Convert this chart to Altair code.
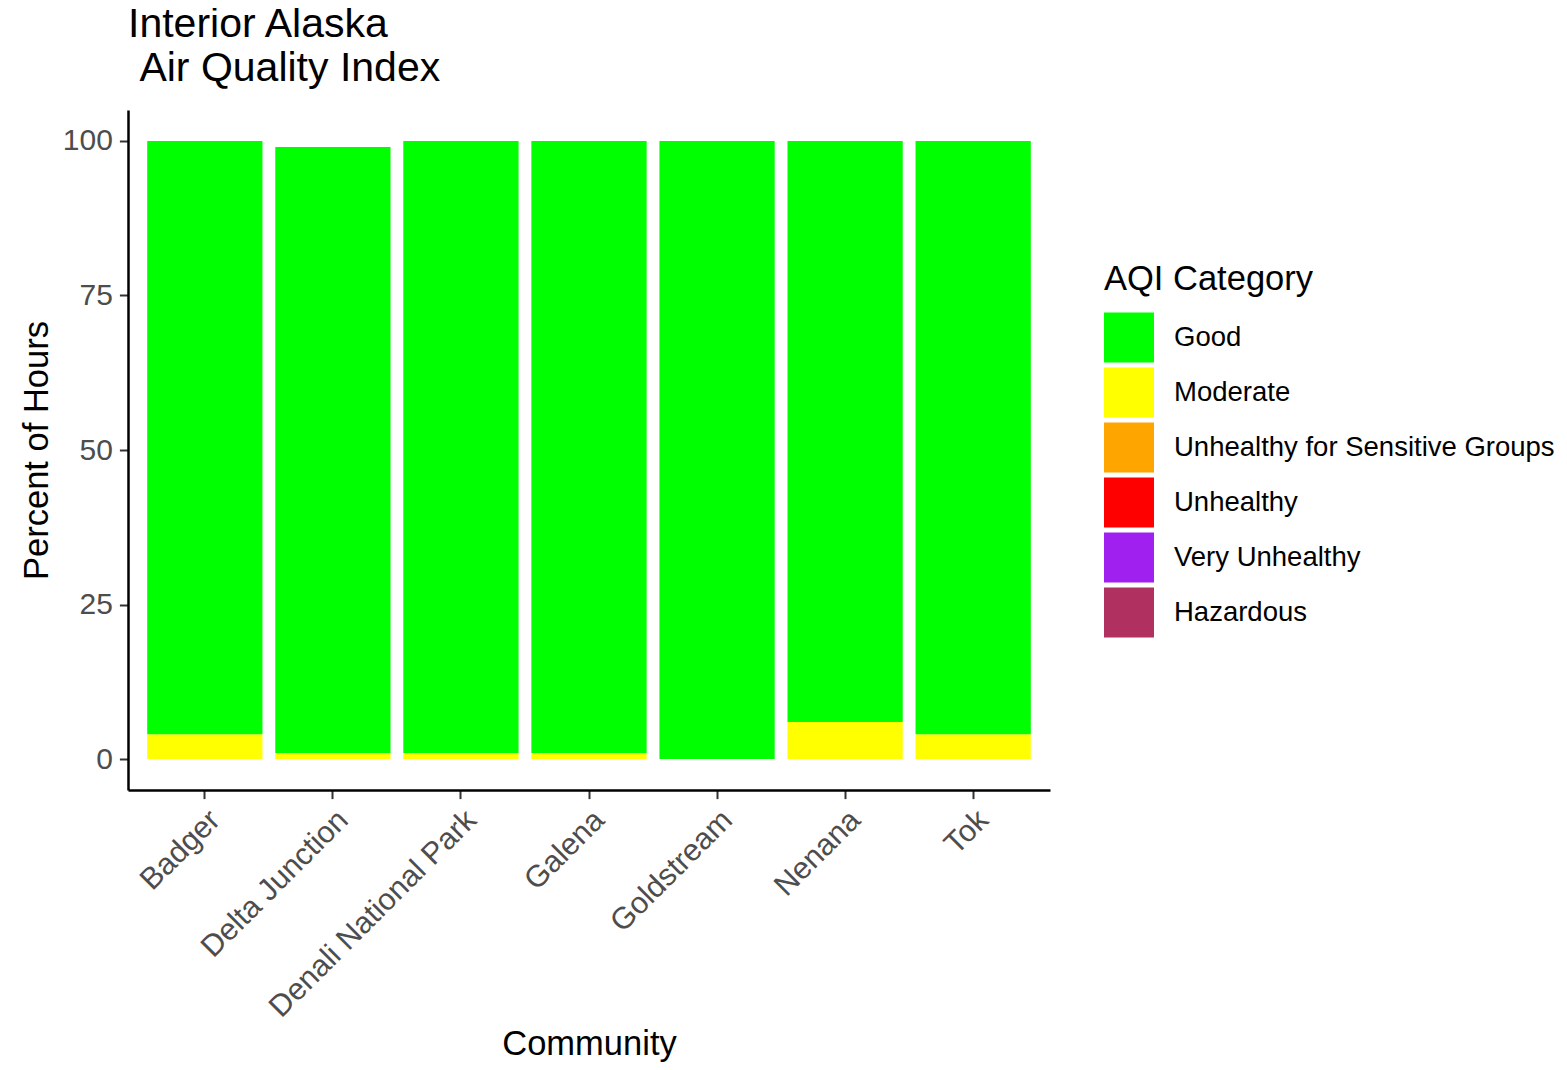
import altair as alt
import pandas as pd

communities = ["Badger", "Delta Junction", "Denali National Park", "Galena",
               "Goldstream", "Nenana", "Tok"]
good = [96, 98, 99, 99, 100, 94, 96]
moderate = [4, 1, 1, 1, 0, 6, 4]

categories = ["Good", "Moderate", "Unhealthy for Sensitive Groups",
              "Unhealthy", "Very Unhealthy", "Hazardous"]
colors = ["#00FF00", "#FFFF00", "#FFA500", "#FF0000", "#A020F0", "#B03060"]

rows = []
for c, g, m in zip(communities, good, moderate):
    rows.append({"Community": c, "Category": "Moderate", "Percent": m, "ord": 1})
    rows.append({"Community": c, "Category": "Good", "Percent": g, "ord": 2})
df = pd.DataFrame(rows)

FONT = "Liberation Sans"

chart = alt.Chart(df).mark_bar(strokeWidth=0).encode(
    x=alt.X("Community:N", sort=communities,
            scale=alt.Scale(paddingInner=0.1, paddingOuter=0.15),
            axis=alt.Axis(title="Community", labelAngle=315, labelAlign="right",
                          labelBaseline="top", labelFontSize=30.5, labelColor="#4D4D4D",
                          labelPadding=6, tickSize=8.6, tickColor="#333333", tickWidth=2,
                          domainColor="black", domainWidth=2.5, labelLimit=600,
                          titleFontSize=34.5, titleFontWeight="normal", titleColor="black",
                          titleBaseline="alphabetic", titleY=264, titleX=461,
                          labelFont=FONT, titleFont=FONT)),
    y=alt.Y("Percent:Q", stack="zero",
            scale=alt.Scale(domain=[-5, 105], nice=False, zero=False),
            axis=alt.Axis(title="Percent of Hours", values=[0, 25, 50, 75, 100],
                          labelFontSize=30, labelColor="#4D4D4D", labelPadding=7,
                          tickSize=8.6, tickColor="#333333", tickWidth=2,
                          domainColor="black", domainWidth=2.5, grid=False,
                          titleFontSize=34.5, titleFontWeight="normal", titleColor="black",
                          titleAngle=270, titleBaseline="alphabetic", titleAlign="center",
                          titleX=-81, titleY=340,
                          labelFont=FONT, titleFont=FONT)),
    color=alt.Color("Category:N",
                    scale=alt.Scale(domain=categories, range=colors),
                    legend=alt.Legend(title="AQI Category", orient="none",
                                      legendX=976, legendY=153,
                                      symbolType="square", symbolSize=2500,
                                      symbolStrokeWidth=0, symbolOpacity=1,
                                      rowPadding=5, labelOffset=20,
                                      labelFontSize=27.5, labelColor="black",
                                      titleFontSize=34.5, titleFontWeight="normal",
                                      titleColor="black", titlePadding=15,
                                      labelLimit=600, titleLimit=600,
                                      labelFont=FONT, titleFont=FONT,
                                      values=categories)),
    order=alt.Order("ord:Q", sort="ascending"),
).properties(
    width=922,
    height=680,
    title=alt.TitleParams(text=["Interior Alaska", "\u200b\u00a0Air Quality Index"],
                          anchor="start", frame="group", fontSize=41,
                          fontWeight="normal", color="black", font=FONT,
                          lineHeight=44, offset=20),
    autosize=alt.AutoSizeParams(type="none"),
    padding={"left": 120, "top": 102, "right": 505, "bottom": 272},
).configure_view(stroke=None)

chart.save("out.html", embed_options={"renderer": "svg", "actions": False})
